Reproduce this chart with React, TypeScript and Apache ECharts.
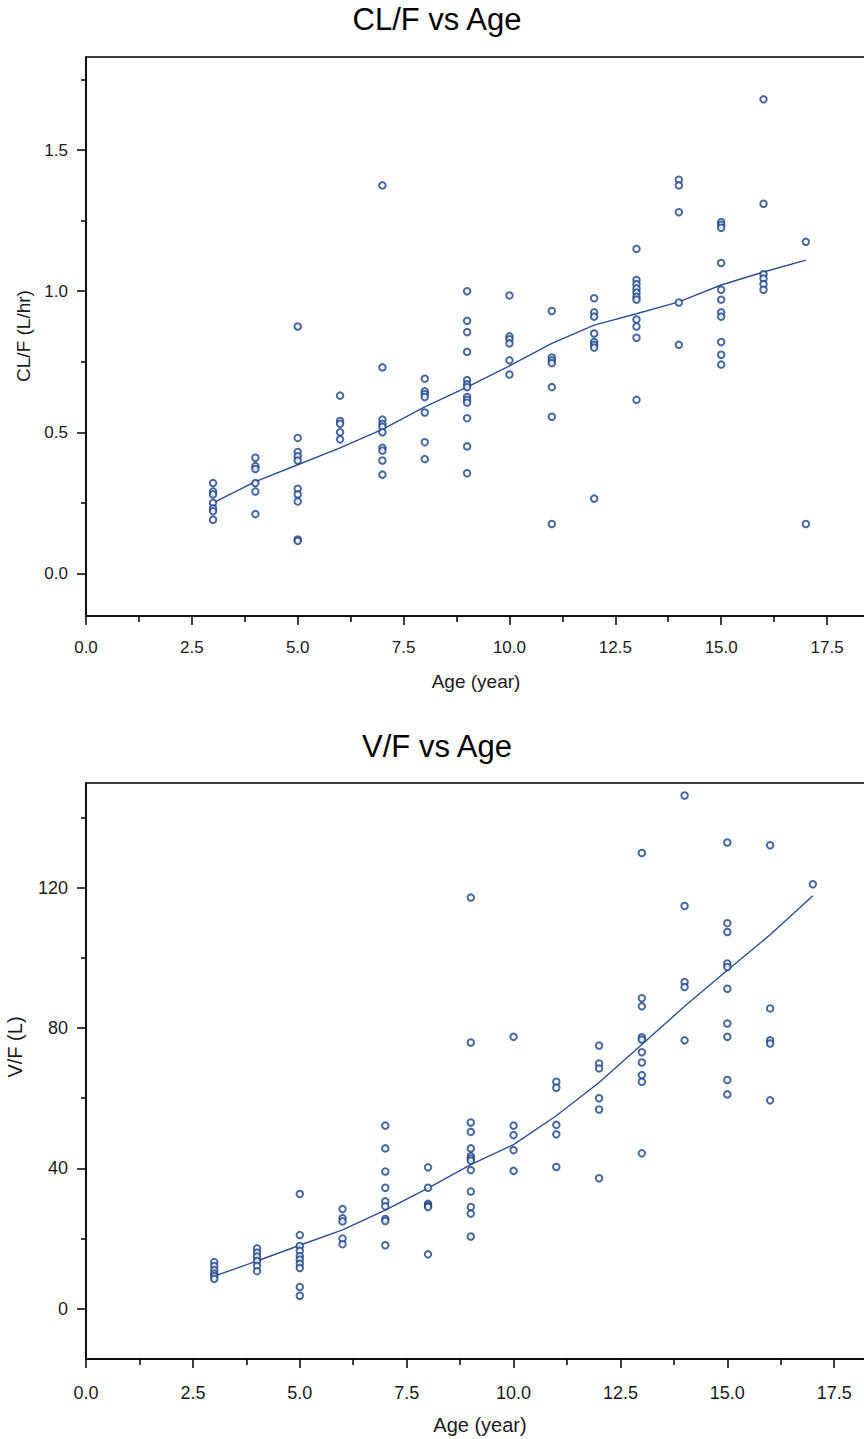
import React, { useEffect, useRef } from "react";
import * as echarts from "echarts";

const AGES = [3, 4, 5, 6, 7, 8, 9, 10, 11, 12, 13, 14, 15, 16, 17];

const CLF_VALUES = [
  [0.32, 0.29, 0.28, 0.25, 0.23, 0.22, 0.19],
  [0.41, 0.38, 0.37, 0.32, 0.29, 0.21],
  [0.875, 0.48, 0.43, 0.415, 0.4, 0.3, 0.28, 0.255, 0.12, 0.115],
  [0.63, 0.54, 0.53, 0.5, 0.475],
  [1.375, 0.73, 0.545, 0.53, 0.52, 0.5, 0.445, 0.435, 0.4, 0.35],
  [0.69, 0.645, 0.635, 0.625, 0.57, 0.465, 0.405],
  [1.0, 0.895, 0.855, 0.785, 0.685, 0.67, 0.66, 0.625, 0.615, 0.605, 0.55, 0.45, 0.355],
  [0.985, 0.84, 0.83, 0.815, 0.755, 0.705],
  [0.93, 0.765, 0.755, 0.745, 0.66, 0.555, 0.175],
  [0.975, 0.925, 0.91, 0.85, 0.82, 0.81, 0.8, 0.265],
  [1.15, 1.04, 1.025, 1.01, 0.995, 0.98, 0.97, 0.9, 0.875, 0.835, 0.615],
  [1.395, 1.375, 1.28, 0.96, 0.81],
  [1.245, 1.235, 1.225, 1.1, 1.005, 0.97, 0.925, 0.91, 0.82, 0.775, 0.74],
  [1.68, 1.31, 1.06, 1.045, 1.025, 1.005],
  [1.175, 0.175],
];
const CLF_SMOOTH = [0.25, 0.325, 0.385, 0.445, 0.51, 0.59, 0.66, 0.735, 0.815, 0.88, 0.92, 0.962, 1.022, 1.068, 1.11];

const VF_VALUES = [
  [13.3, 12.2, 11.0, 10.0, 9.3, 8.5],
  [17.2, 16.0, 14.9, 13.6, 12.2, 10.7],
  [32.7, 21.0, 17.9, 16.5, 15.0, 14.0, 12.8, 11.6, 6.2, 3.7],
  [28.4, 25.8, 24.9, 20.0, 18.4],
  [52.2, 45.7, 39.1, 34.5, 30.6, 29.2, 25.6, 25.0, 18.1],
  [40.3, 34.5, 29.9, 29.4, 29.0, 15.5],
  [117.2, 75.9, 53.1, 50.4, 45.7, 43.5, 42.8, 42.2, 39.5, 33.4, 29.0, 27.1, 20.6],
  [77.5, 52.2, 49.5, 45.2, 39.3],
  [64.7, 63.0, 52.4, 49.7, 40.4],
  [75.0, 69.9, 68.5, 60.0, 56.8, 37.2],
  [129.9, 88.5, 86.2, 77.4, 76.7, 73.1, 70.2, 66.6, 64.7, 44.3],
  [146.3, 114.8, 93.1, 91.7, 76.5],
  [132.9, 109.9, 107.4, 98.4, 97.4, 91.2, 81.3, 77.5, 65.2, 61.1],
  [132.1, 85.6, 76.5, 75.6, 59.4],
  [121.0],
];
const VF_SMOOTH = [9.3, 13.6, 18.1, 22.5, 28.1, 34.4, 41.1, 46.8, 55.0, 64.5, 75.3, 86.2, 96.5, 106.6, 117.7];

const X_TICKS = [0, 2.5, 5, 7.5, 10, 12.5, 15, 17.5];
const X_MINOR = [1.25, 3.75, 6.25, 8.75, 11.25, 13.75, 16.25];
const CLF_TICKS = [0, 0.5, 1.0, 1.5];
const CLF_MINOR = [0.25, 0.75, 1.25, 1.75];
const VF_TICKS = [0, 40, 80, 120];
const VF_MINOR = [20, 60, 100, 140];

const TITLES = ["CL/F vs Age", "V/F vs Age"];
const X_NAME = "Age (year)";
const Y_NAMES = ["CL/F (L/hr)", "V/F (L)"];

const INK = "#1c4189";
const FONT = "Liberation Sans, Arial, sans-serif";
const TEXT = "#1a1a1a";

function toPoints(values: number[][]) {
  const out: number[][] = [];
  AGES.forEach((a, i) => values[i].forEach((v) => out.push([a, v])));
  return out;
}

function mainX(grid: number, max: number, fs: number, margin: number) {
  return {
    type: "value",
    gridIndex: grid,
    position: "bottom",
    min: 0,
    max,
    name: X_NAME,
    nameLocation: "middle",
    nameGap: 56,
    nameTextStyle: { fontSize: fs + 2, fontFamily: FONT, color: TEXT },
    axisLine: { show: true, onZero: false, lineStyle: { color: "#000", width: 1.5 } },
    axisTick: { show: true, customValues: X_TICKS, length: 9, lineStyle: { color: "#000", width: 1.5 } },
    axisLabel: {
      show: true,
      customValues: X_TICKS,
      formatter: (v: number) => v.toFixed(1),
      fontSize: fs,
      fontFamily: FONT,
      color: TEXT,
      margin,
    },
    splitLine: { show: false },
  };
}
function minorX(grid: number, max: number) {
  return {
    type: "value",
    gridIndex: grid,
    position: "bottom",
    min: 0,
    max,
    axisLine: { show: false, onZero: false },
    axisTick: { show: true, customValues: X_MINOR, length: 6, lineStyle: { color: "#000", width: 1.5 } },
    axisLabel: { show: false },
    splitLine: { show: false },
  };
}
function mainY(grid: number, min: number, max: number, ticks: number[], fmt: (v: number) => string, fs: number) {
  return {
    type: "value",
    gridIndex: grid,
    position: "left",
    min,
    max,
    axisLine: { show: true, onZero: false, lineStyle: { color: "#000", width: 1.5 } },
    axisTick: { show: true, customValues: ticks, length: 9, lineStyle: { color: "#000", width: 1.5 } },
    axisLabel: {
      show: true,
      customValues: ticks,
      formatter: fmt,
      fontSize: fs,
      fontFamily: FONT,
      color: TEXT,
      margin: 18,
      padding: [7, 0, 0, 0],
    },
    splitLine: { show: false },
  };
}
function minorY(grid: number, min: number, max: number, ticks: number[]) {
  return {
    type: "value",
    gridIndex: grid,
    position: "left",
    min,
    max,
    axisLine: { show: false, onZero: false },
    axisTick: { show: true, customValues: ticks, length: 5, lineStyle: { color: "#000", width: 1.5 } },
    axisLabel: { show: false },
    splitLine: { show: false },
  };
}

export default function App() {
  const ref = useRef<HTMLDivElement>(null);
  useEffect(() => {
    if (!ref.current) return;
    const chart = echarts.init(ref.current, null, { renderer: "svg" });
    const scatterStyle = {
      type: "scatter",
      symbol: "emptyCircle",
      symbolSize: 6.5,
      itemStyle: { color: INK, borderColor: INK, borderWidth: 1.7 },
      z: 3,
    };
    const lineStyle = {
      type: "line",
      showSymbol: false,
      symbol: "none",
      smooth: false,
      lineStyle: { color: "#2d4f92", width: 1.4 },
      z: 2,
    };
    const gridBase = {
      show: true,
      borderColor: "#000",
      borderWidth: 1.5,
      backgroundColor: "transparent",
      containLabel: false,
      outerBoundsMode: "none",
    };
    chart.setOption({
      animation: false,
      backgroundColor: "#fff",
      title: [
        {
          text: TITLES[0],
          left: 437,
          top: 4,
          padding: 0,
          textAlign: "center",
          textStyle: { fontSize: 31, fontWeight: "normal", fontFamily: FONT, color: "#000" },
        },
        {
          text: TITLES[1],
          left: 437,
          top: 731,
          padding: 0,
          textAlign: "center",
          textStyle: { fontSize: 31, fontWeight: "normal", fontFamily: FONT, color: "#000" },
        },
      ],
      grid: [
        { ...gridBase, left: 86, top: 57, width: 780, height: 559 },
        { ...gridBase, left: 86, top: 783, width: 788, height: 576 },
      ],
      xAxis: [mainX(0, 18.42, 17, 23), minorX(0, 18.42), mainX(1, 18.43, 18, 25), minorX(1, 18.43)],
      yAxis: [
        mainY(0, -0.151, 1.83, CLF_TICKS, (v: number) => v.toFixed(1), 17),
        minorY(0, -0.151, 1.83, CLF_MINOR),
        mainY(1, -14.33, 149.86, VF_TICKS, (v: number) => String(v), 18),
        minorY(1, -14.33, 149.86, VF_MINOR),
      ],
      graphic: [
        {
          type: "text",
          x: 23,
          y: 336,
          rotation: Math.PI / 2,
          style: { text: Y_NAMES[0], font: `19px ${FONT}`, fill: TEXT, align: "center", verticalAlign: "middle" },
        },
        {
          type: "text",
          x: 15,
          y: 1047,
          rotation: Math.PI / 2,
          style: { text: Y_NAMES[1], font: `20px ${FONT}`, fill: TEXT, align: "center", verticalAlign: "middle" },
        },
      ],
      series: [
        { ...lineStyle, xAxisIndex: 0, yAxisIndex: 0, data: AGES.map((a, i) => [a, CLF_SMOOTH[i]]) },
        { ...scatterStyle, xAxisIndex: 0, yAxisIndex: 0, data: toPoints(CLF_VALUES) },
        { ...lineStyle, xAxisIndex: 2, yAxisIndex: 2, data: AGES.map((a, i) => [a, VF_SMOOTH[i]]) },
        { ...scatterStyle, xAxisIndex: 2, yAxisIndex: 2, data: toPoints(VF_VALUES) },
      ],
    });
    return () => chart.dispose();
  }, []);
  return (
    <div
      ref={ref}
      style={{ position: "absolute", left: 0, top: 0, width: 864, height: 1439, background: "#fff" }}
    />
  );
}
